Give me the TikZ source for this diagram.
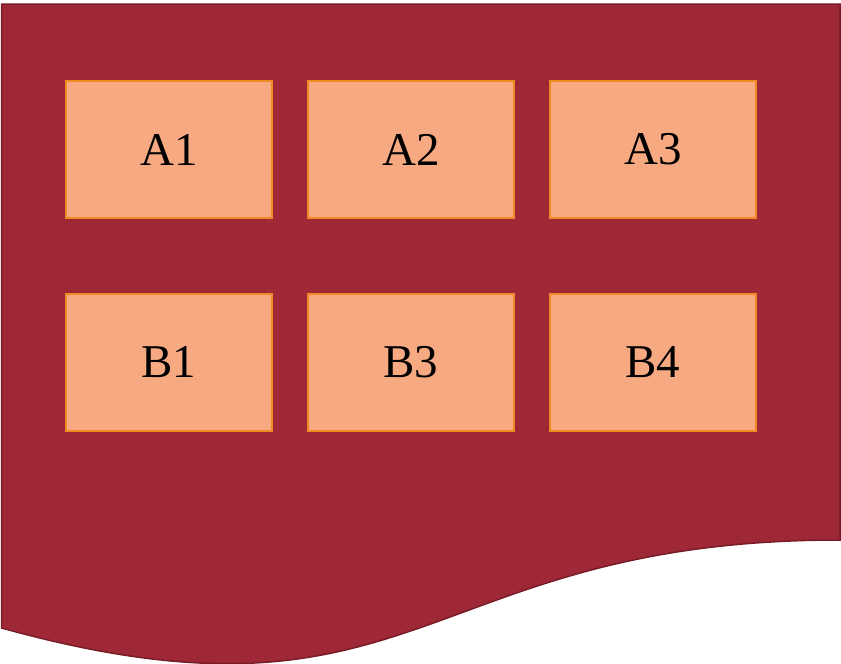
\documentclass[tikz,border=0pt]{standalone}
\usepackage{fontspec}
\setmainfont{Liberation Serif}
\definecolor{docred}{HTML}{9E2835}
\definecolor{docedge}{HTML}{7A1C28}
\definecolor{boxfill}{HTML}{F7A981}
\definecolor{boxedge}{HTML}{F08A24}
\begin{document}
\begin{tikzpicture}[x=1pt,y=-1pt,
  cell/.style={draw=boxedge, fill=boxfill, line width=1.2pt, minimum width=206pt, minimum height=137pt, inner sep=0pt, font=\fontsize{47}{54}\selectfont, text=black},
  docshape/.style={fill=docred, draw=docedge, line width=1.5pt}]
\useasboundingbox (0,0) rectangle (841,664);
\draw[docshape] (1.5,4) -- (840,4) -- (840,540)
  .. controls (420.75,540) and (420.75,744) .. (1.5,628) -- cycle;
\node[cell] (a1) at (169,149.5) {\raisebox{-1.5pt}{A1}};
\node[cell] (a2) at (411,149.5) {\raisebox{-1.5pt}{A2}};
\node[cell] (a3) at (653,149.5) {\raisebox{-1.5pt}{A3}};
\node[cell] (b1) at (169,362.5) {\raisebox{-1.5pt}{B1}};
\node[cell] (b3) at (411,362.5) {\raisebox{-1.5pt}{B3}};
\node[cell] (b4) at (653,362.5) {\raisebox{-1.5pt}{B4}};
\end{tikzpicture}
\end{document}
